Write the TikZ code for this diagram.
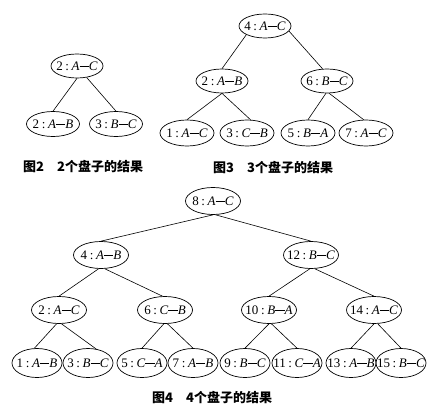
\documentclass[tikz,border=0pt]{standalone}
\usepackage{fontspec}
\setmainfont{Liberation Serif}
\newfontfamily\cjk{Noto Sans CJK SC}
\usetikzlibrary{shapes.geometric}
\newcommand{\mydash}{\rule[0.24em]{0.72em}{0.05em}}
\newcommand{\mylbl}[3]{\makebox[0pt]{#1\hspace{0.2em}:\hspace{0.2em}\textit{#2}\mydash\textit{#3}}}
\tikzset{
  ell/.style={draw, ellipse, line width=0.7pt, inner sep=0pt,
    minimum width=52pt, minimum height=24pt, font=\fontsize{13}{15}\selectfont},
  ellb/.style={ell, minimum width=55pt, minimum height=27pt},
  ellc/.style={ell, minimum width=50pt, minimum height=29pt},
  edge/.style={line width=0.6pt},
  captxt/.style={anchor=west, inner sep=0pt, font=\cjk\bfseries\fontsize{13}{15}\selectfont}
}
\begin{document}
\begin{tikzpicture}[x=1pt,y=-1pt]
\useasboundingbox (0,0) rectangle (428,417);
% Figure 2
\node[ell] (r2) at (77,66) {\mylbl{2}{A}{C}};
\node[ell, minimum width=53pt, minimum height=25pt] (a2) at (53,124) {\mylbl{2}{A}{B}};
\node[ell, minimum width=53pt, minimum height=25pt] (b2) at (116,124) {\mylbl{3}{B}{C}};
\draw[edge] (r2.south) -- (a2.north);
\draw[edge] (r2.-50) -- (b2.north);
\node[captxt] (c2) at (23,167) {图2\hspace{1em}2个盘子的结果};
% Figure 3
\node[ell] (r3) at (265,26) {\mylbl{4}{A}{C}};
\node[ell] (a3) at (222,81) {\mylbl{2}{A}{B}};
\node[ell] (b3) at (327,81) {\mylbl{6}{B}{C}};
\node[ell, minimum width=54pt, minimum height=26pt] (a3a) at (187,133) {\mylbl{1}{A}{C}};
\node[ell, minimum width=54pt, minimum height=26pt] (a3b) at (247,133) {\mylbl{3}{C}{B}};
\node[ell, minimum width=54pt, minimum height=26pt] (b3a) at (308,133) {\mylbl{5}{B}{A}};
\node[ell, minimum width=54pt, minimum height=26pt] (b3b) at (366,133) {\mylbl{7}{A}{C}};
\draw[edge] (r3.-155) -- (a3.north);
\draw[edge] (r3.-12) -- (b3.110);
\draw[edge] (a3.south) -- (a3a.north);
\draw[edge] (a3.south) -- (a3b.75);
\draw[edge] (b3.-95) -- (b3a.north);
\draw[edge] (b3.-80) -- (b3b.100);
\node[captxt] (c3) at (213,168) {图3\hspace{1em}3个盘子的结果};
% Figure 4
\node[ellb] (r4) at (213,201) {\mylbl{8}{A}{C}};
\node[ellb] (n4) at (101,255) {\mylbl{4}{A}{B}};
\node[ellb] (n12) at (311,255) {\mylbl{12}{B}{C}};
\node[ellb] (n2) at (59,310) {\mylbl{2}{A}{C}};
\node[ellb] (n6) at (165,310) {\mylbl{6}{C}{B}};
\node[ellb] (n10) at (269,310) {\mylbl{10}{B}{A}};
\node[ellb] (n14) at (374,310) {\mylbl{14}{A}{C}};
\node[ellc] (m1) at (37,363) {\mylbl{1}{A}{B}};
\node[ellc] (m3) at (88,363) {\mylbl{3}{B}{C}};
\node[ellc] (m5) at (142,363) {\mylbl{5}{C}{A}};
\node[ellc] (m7) at (193,363) {\mylbl{7}{A}{B}};
\node[ellc] (m9) at (245,363) {\mylbl{9}{B}{C}};
\node[ellc] (m11) at (297,363) {\mylbl{11}{C}{A}};
\node[ellc] (m13) at (351,363) {\mylbl{13}{A}{B}};
\node[ellc] (m15) at (401,363) {\mylbl{15}{B}{C}};
\draw[edge] (r4.south) -- (n4.north);
\draw[edge] (r4.-80) -- (n12.north);
\draw[edge] (n4.-100) -- (n2.north);
\draw[edge] (n4.-75) -- (n6.100);
\draw[edge] (n12.-95) -- (n10.north);
\draw[edge] (n12.-75) -- (n14.north);
\draw[edge] (n2.-100) -- (m1.100);
\draw[edge] (n2.-80) -- (m3.60);
\draw[edge] (n6.-95) -- (m5.north);
\draw[edge] (n6.-80) -- (m7.north);
\draw[edge] (n10.south) -- (m9.north);
\draw[edge] (n10.-80) -- (m11.north);
\draw[edge] (n14.south) -- (m13.north);
\draw[edge] (n14.-75) -- (m15.north);
\node[captxt] (c4) at (152,398) {图4\hspace{1em}4个盘子的结果};
\end{tikzpicture}
\end{document}
